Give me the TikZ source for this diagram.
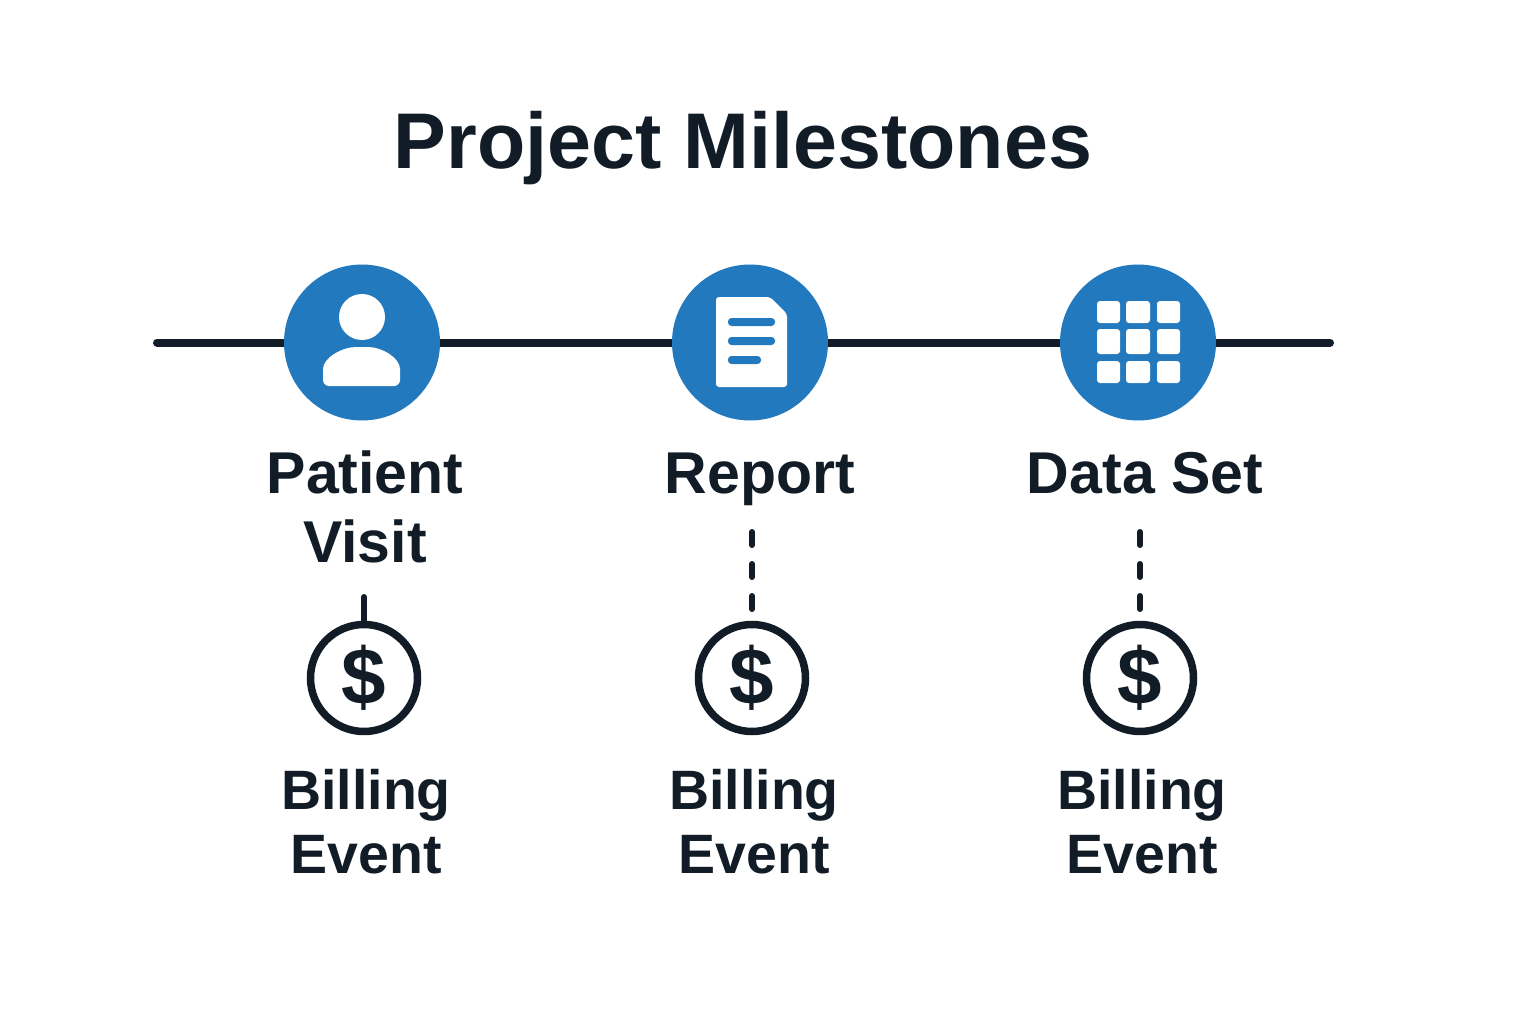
\documentclass[tikz,border=0pt]{standalone}
\usepackage{fontspec}
\usetikzlibrary{backgrounds}
\setmainfont{Liberation Sans}
\definecolor{inkdark}{HTML}{111C27}
\definecolor{hubblue}{HTML}{2279BD}
\tikzset{
  hub/.style={circle,fill=hubblue,minimum size=156pt,inner sep=0pt,outer sep=0pt},
  coin/.style={circle,draw=inkdark,line width=7.5pt,minimum size=107pt,inner sep=0pt,outer sep=3pt,
    text=inkdark,font=\bfseries\fontsize{80}{80}\selectfont},
  rail/.style={draw=inkdark,line width=8pt,line cap=round},
  tie/.style={draw=inkdark,line width=6pt,line cap=round},
  title/.style={text=inkdark,font=\bfseries\fontsize{79}{79}\selectfont,anchor=base,inner sep=0pt},
  label/.style={text=inkdark,font=\bfseries\fontsize{59}{68.5}\selectfont,align=center,anchor=north,inner sep=0pt},
  billing/.style={text=inkdark,font=\bfseries\fontsize{55.5}{64}\selectfont,align=center,anchor=north,inner sep=0pt},
  glyph/.style={fill=white,rounded corners=3pt}
}
\begin{document}
\begin{tikzpicture}[x=1pt,y=-1pt]
    \useasboundingbox (0,0) rectangle (1536,1024);
    % Title
    \node[title] (heading) at (743,169) {Project Milestones};
    % Timeline
    \coordinate (railstart) at (157,342.5);
    \coordinate (railend) at (1330,342.5);
    \node[hub] (visit) at (362,342.5) {};
    \node[hub] (report) at (750,342.5) {};
    \node[hub] (dataset) at (1138,342.5) {};
    \begin{pgfonlayer}{background}
      \draw[rail] (railstart) -- (visit) (visit) -- (report) (report) -- (dataset) (dataset) -- (railend);
    \end{pgfonlayer}
    % Person
    \fill[white] (362,317) circle (23);
    \fill[white,rounded corners=6pt] (323,386) -- (323,375) .. controls (323,358) and (342,347) .. (362,347)
      .. controls (382,347) and (400,358) .. (400,375) -- (400,386) -- cycle;
    % Document
    \fill[glyph] (716,297) -- (770,297) -- (787,314) -- (787,387) -- (716,387) -- cycle;
    \fill[hubblue,rounded corners=3.5pt] (728,318) rectangle (775,326);
    \fill[hubblue,rounded corners=3.5pt] (728,337) rectangle (775,345);
    \fill[hubblue,rounded corners=3.5pt] (728,356) rectangle (761,364);
    % Grid
    \foreach \xa/\xb in {1097/1120,1126/1150,1157/1180}
      \foreach \ya/\yb in {301/323,329/354,361/383}
        \fill[glyph] (\xa,\ya) rectangle (\xb,\yb);
    % Labels
    \node[label] (visitlabel) at (365,451) {Patient\\Visit};
    \node[label] (reportlabel) at (760,453) {Report};
    \node[label] (datalabel) at (1145,452) {Data Set};
    % Billing
    \node[coin] (coinA) at (364,678) {\$};
    \node[coin] (coinB) at (752,678) {\$};
    \node[coin] (coinC) at (1140,678) {\$};
    \coordinate (tieA) at (364,597);
    \coordinate (tieB) at (752,532);
    \coordinate (tieC) at (1140,532);
    \draw[tie] (tieA) -- (coinA);
    \draw[tie,dash pattern=on 13pt off 19pt,shorten >=9pt] (tieB) -- (coinB);
    \draw[tie,dash pattern=on 13pt off 19pt,shorten >=9pt] (tieC) -- (coinC);
    \node[billing] (billA) at (366,769) {Billing\\Event};
    \node[billing] (billB) at (754,769) {Billing\\Event};
    \node[billing] (billC) at (1142,769) {Billing\\Event};
\end{tikzpicture}
\end{document}
